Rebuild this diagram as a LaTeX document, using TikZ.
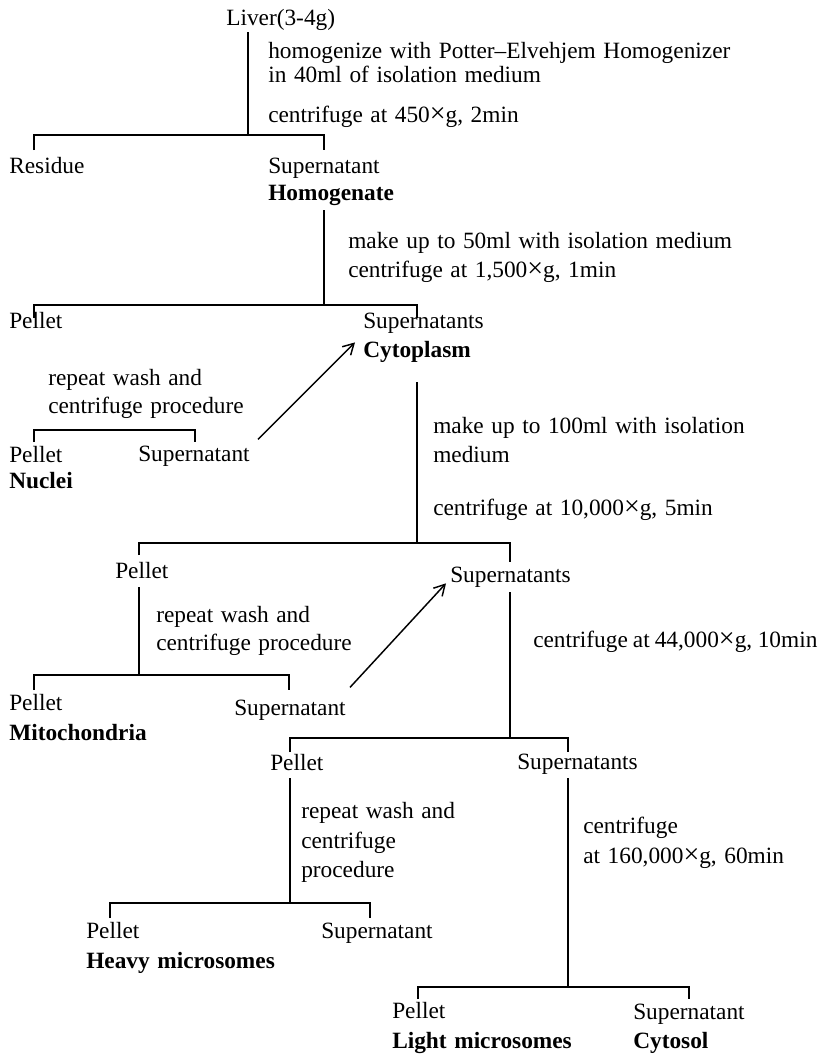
\documentclass[tikz,border=0pt]{standalone}
\usepackage{fontspec}
\setmainfont[WordSpace=1.3]{Liberation Serif}
\usetikzlibrary{arrows.meta,calc}
\newcommand\tms{{\fontsize{21}{21}\selectfont ×}}
\begin{document}
\begin{tikzpicture}[x=0.75pt,y=-0.75pt,
  t/.style={anchor=base west,inner sep=0pt,font=\fontsize{17.5}{21}\selectfont,text height=11.5pt,text depth=3.8pt},
  b/.style={t,font=\fontsize{17.5}{21}\selectfont\bfseries},
  ln/.style={line width=1.5pt},
  arr/.style={line width=1.1pt,-{Straight Barb[length=8pt,width=9pt,line width=1.1pt]}}]
\useasboundingbox (0,0) rectangle (823,1054);
% texts
\node[t] (liver) at (226,25) {Liver(3-4g)};
\node[t] (p1a) at (268,58) {homogenize with Potter–Elvehjem Homogenizer};
\node[t] (p1b) at (268,82) {in 40ml of isolation medium};
\node[t] (p1c) at (268,122) {centrifuge at 450\tms g, 2min};
\node[t] (res) at (9,173) {Residue};
\node[t] (sup1) at (268,173) {Supernatant};
\node[b] (homog) at (268,200) {Homogenate};
\node[t] (p2a) at (348,248) {make up to 50ml with isolation medium};
\node[t] (p2b) at (348,277) {centrifuge at 1,500\tms g, 1min};
\node[t] (pel2) at (9,328) {Pellet};
\node[t] (sup2) at (363,328) {Supernatants};
\node[b] (cyto) at (363,357) {Cytoplasm};
\node[t] (p2c) at (48,385) {repeat wash and};
\node[t] (p2d) at (48,413) {centrifuge procedure};
\node[t] (pel2b) at (9,462) {Pellet};
\node[b] (nuc) at (9,488) {Nuclei};
\node[t] (sup2b) at (138,461) {Supernatant};
\node[t] (p3a) at (433,433) {make up to 100ml with isolation};
\node[t] (p3b) at (433,462) {medium};
\node[t] (p3c) at (433,515) {centrifuge at 10,000\tms g, 5min};
\node[t] (pel3) at (115,578) {Pellet};
\node[t] (sup3) at (450,582) {Supernatants};
\node[t] (p3d) at (156,622) {repeat wash and};
\node[t] (p3e) at (156,650) {centrifuge procedure};
\node[t] (pel3b) at (9,710) {Pellet};
\node[b] (mito) at (9,740) {Mitochondria};
\node[t] (sup3b) at (234,715) {Supernatant};
\node[t] (p4a) at (533,647) {\makebox[212pt][s]{centrifuge at 44,000\tms g, 10min}};
\node[t] (pel4) at (270,770) {Pellet};
\node[t] (sup4) at (517,769) {Supernatants};
\node[t] (p4b) at (301,818) {repeat wash and};
\node[t] (p4c) at (301,848) {centrifuge};
\node[t] (p4d) at (301,877) {procedure};
\node[t] (pel4b) at (86,938) {Pellet};
\node[b] (heavy) at (86,968) {Heavy microsomes};
\node[t] (sup4b) at (321,938) {Supernatant};
\node[t] (p5a) at (583,833) {centrifuge};
\node[t] (p5b) at (583,863) {at 160,000\tms g, 60min};
\node[t] (pel5) at (392,1018) {Pellet};
\node[b] (light) at (392,1048) {Light microsomes};
\node[t] (sup5) at (633,1019) {Supernatant};
\node[b] (cytosol) at (633,1048) {Cytosol};
% junctions
\coordinate (s1) at (248,135); \coordinate (a1) at (34,135);  \coordinate (b1) at (324,135);
\coordinate (s2) at (324,305); \coordinate (a2) at (34,305);  \coordinate (b2) at (417,305);
\coordinate (a3) at (34,430);  \coordinate (b3) at (195,430);
\coordinate (s4) at (417,543); \coordinate (a4) at (139,543); \coordinate (b4) at (510,543);
\coordinate (s5) at (139,675); \coordinate (a5) at (34,675);  \coordinate (b5) at (289,675);
\coordinate (s6) at (510,738); \coordinate (a6) at (290,738); \coordinate (b6) at (568,738);
\coordinate (s7) at (290,903); \coordinate (a7) at (110,903); \coordinate (b7) at (370,903);
\coordinate (s8) at (568,987); \coordinate (a8) at (418,987); \coordinate (b8) at (689,987);
% stems
\draw[ln] (s1 |- liver.south) ++(0,2) -- (s1);
\draw[ln] (s2 |- homog.south) ++(0,5) -- (s2);
\draw[ln] (s4 |- cyto.south) ++(0,20) -- (s4);
\draw[ln] (s5 |- pel3.south) ++(0,4) -- (s5);
\draw[ln] (s6 |- sup3.south) ++(0,5) -- (s6);
\draw[ln] (s7 |- pel4.south) ++(0,3) -- (s7);
\draw[ln] (s8 |- sup4.south) ++(0,4) -- (s8);
% bars
\draw[ln] (a1) ++(0,15) -- (a1) -- (b1) -- ++(0,15);
\draw[ln] (a2) ++(0,13) -- (a2) -- (b2) -- ++(0,13);
\draw[ln] (a3) ++(0,12) -- (a3) -- (b3) -- ++(0,12);
\draw[ln] (a4) ++(0,12) -- (a4) -- (b4) -- ++(0,19);
\draw[ln] (a5) ++(0,15) -- (a5) -- (b5) -- ++(0,15);
\draw[ln] (a6) ++(0,14) -- (a6) -- (b6) -- ++(0,14);
\draw[ln] (a7) ++(0,15) -- (a7) -- (b7) -- ++(0,15);
\draw[ln] (a8) ++(0,12) -- (a8) -- (b8) -- ++(0,12);
% arrows
\draw[arr] ($(sup2b.north east)+(8,-6)$) -- ($(cyto.north west)+(-8,1)$);
\draw[arr] ($(sup3b.north east)+(4,-12)$) -- ($(sup3.south west)+(-4,-4)$);
\end{tikzpicture}
\end{document}
